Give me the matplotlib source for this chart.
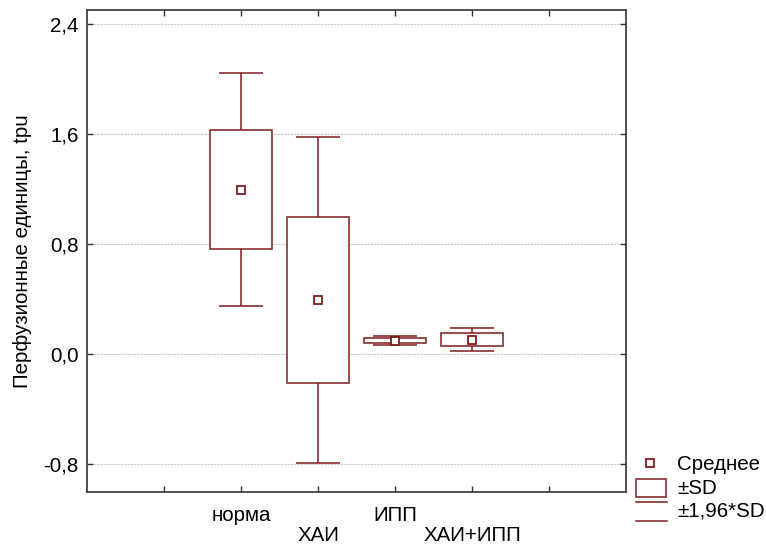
import matplotlib.pyplot as plt
from matplotlib.patches import Rectangle
from matplotlib.lines import Line2D

plt.rcParams['font.family'] = ['Liberation Sans', 'DejaVu Sans']

# groups, their positions on the x axis, means and standard deviations
groups = ['норма', 'ХАИ', 'ИПП', 'ХАИ+ИПП']
positions = [2, 3, 4, 5]
means = [1.196, 0.393, 0.100, 0.107]
sds = [0.433, 0.603, 0.018, 0.044]

y_ticks = [-0.8, 0.0, 0.8, 1.6, 2.4]
y_labels = ['-0,8', '0,0', '0,8', '1,6', '2,4']

RED = '#7d1c1c'
FS = 14.8

fig = plt.figure(figsize=(7.66, 5.45), dpi=100)
ax = fig.add_axes([87 / 766, 1 - 492 / 545, (626 - 87) / 766, (492 - 10) / 545])

box_w = 0.8
cap_w = 0.58
for x, m, s in zip(positions, means, sds):
    lo, hi = m - s, m + s
    wlo, whi = m - 1.96 * s, m + 1.96 * s
    ax.bar(x, hi - lo, bottom=lo, width=box_w, facecolor='white', edgecolor=RED, linewidth=1.1, zorder=3)
    ax.vlines(x, hi, whi, color=RED, linewidth=1.1, zorder=2)
    ax.vlines(x, wlo, lo, color=RED, linewidth=1.1, zorder=2)
    ax.hlines([wlo, whi], x - cap_w / 2, x + cap_w / 2, color=RED, linewidth=1.1, zorder=2)
ax.plot(positions, means, linestyle='none', marker='s', markersize=6,
        markerfacecolor='white', markeredgecolor=RED, markeredgewidth=1.3, zorder=4)

ax.set_xlim(0, 7)
ax.set_ylim(-1.0, 2.5)
ax.set_yticks(y_ticks)
ax.set_yticklabels(y_labels, fontsize=FS)
ax.set_xticks([1, 2, 3, 4, 5, 6])
ax.set_xticklabels(['', groups[0], '\n' + groups[1], groups[2], '\n' + groups[3], ''], fontsize=FS)
for lbl in ax.get_xticklabels():
    lbl.set_linespacing(1.05)
ax.tick_params(direction='in', length=4, width=1, top=True, right=True, color='#333333')
ax.tick_params(axis='x', pad=10)
ax.tick_params(axis='y', pad=6)
ax.yaxis.grid(True, color='#c8c8c8', linestyle=(0, (2, 1)), linewidth=0.8)
ax.set_axisbelow(True)
for sp in ax.spines.values():
    sp.set_color('#333333')
    sp.set_linewidth(1.2)
ax.set_ylabel('Перфузионные единицы, tpu', fontsize=FS, labelpad=8)

# legend drawn in figure pixels
def fx(px):
    return px / 766

def fy(py):
    return 1 - py / 545

fig.add_artist(Line2D([fx(650)], [fy(463)], marker='s', markersize=6, markerfacecolor='white',
                      markeredgecolor=RED, markeredgewidth=1.3, linestyle='none'))
fig.add_artist(Rectangle((fx(636), fy(497)), fx(666) - fx(636), fy(479) - fy(497),
                         facecolor='white', edgecolor=RED, linewidth=1.1))
fig.add_artist(Line2D([fx(636), fx(667)], [fy(502), fy(502)], color=RED, linewidth=1.1))
fig.add_artist(Line2D([fx(636), fx(667)], [fy(521), fy(521)], color=RED, linewidth=1.1))
fig.text(fx(677), fy(465), 'Среднее', fontsize=FS, va='center', ha='left')
fig.text(fx(677), fy(488), '±SD', fontsize=FS, va='center', ha='left')
fig.text(fx(677), fy(511), '±1,96*SD', fontsize=FS, va='center', ha='left')

fig.savefig('out.png', dpi=100)
